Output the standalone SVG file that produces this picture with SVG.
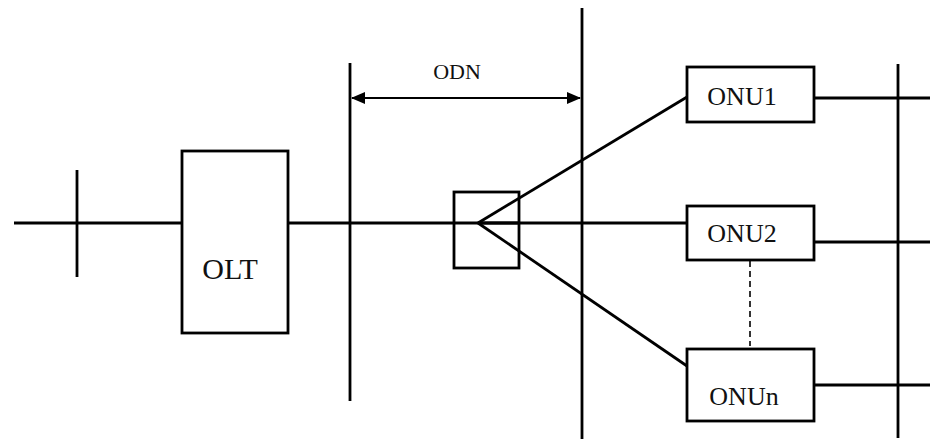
<svg xmlns="http://www.w3.org/2000/svg" width="930" height="439" viewBox="0 0 930 439">
<style>
.ln{stroke:#000;stroke-width:2.8;fill:none}
.bx{stroke:#000;stroke-width:2.8;fill:#fff}
.t{font-family:"Liberation Serif","Times New Roman",serif;fill:#111}
</style>
<defs>
<marker id="ah" viewBox="0 0 14 12" refX="13" refY="6" markerWidth="14" markerHeight="12" markerUnits="userSpaceOnUse" orient="auto-start-reverse">
<path d="M0,0 L14,6 L0,12 Z" fill="#000"/>
</marker>
</defs>
<rect width="930" height="439" fill="#fff"/>
<g id="connectors">
<line class="ln" x1="14" y1="223" x2="182" y2="223"/>
<line class="ln" x1="77" y1="170" x2="77" y2="277"/>
<line class="ln" x1="288" y1="223" x2="687" y2="223"/>
<line class="ln" x1="350" y1="63" x2="350" y2="401"/>
<line class="ln" x1="582" y1="8" x2="582" y2="439"/>
<line class="ln" x1="352" y1="98" x2="580" y2="98" marker-start="url(#ah)" marker-end="url(#ah)" style="stroke-width:2"/>
<line class="ln" x1="478" y1="223" x2="687" y2="97"/>
<line class="ln" x1="478" y1="223" x2="687" y2="366"/>
<line class="ln" x1="814" y1="98" x2="930" y2="98"/>
<line class="ln" x1="814" y1="242" x2="930" y2="242"/>
<line class="ln" x1="814" y1="385" x2="930" y2="385"/>
<line class="ln" x1="898" y1="64" x2="898" y2="438"/>
<line x1="750" y1="261" x2="750" y2="346" stroke="#000" stroke-width="1.6" stroke-dasharray="6,4"/>
</g>
<g id="odn-label"><text class="t" x="457" y="79" font-size="22" text-anchor="middle">ODN</text></g>
<g id="olt"><rect class="bx" x="182" y="151" width="106" height="182"/><text class="t" x="230" y="279" font-size="30" text-anchor="middle">OLT</text></g>
<g id="splitter"><rect class="ln" x="454" y="192" width="65" height="76"/><line class="ln" x1="478" y1="223" x2="519" y2="223"/></g>
<g id="onu1"><rect class="bx" x="687" y="67" width="127" height="55"/><text class="t" x="742" y="105" font-size="26" text-anchor="middle">ONU1</text></g>
<g id="onu2"><rect class="bx" x="687" y="206" width="127" height="54"/><text class="t" x="742" y="242" font-size="26" text-anchor="middle">ONU2</text></g>
<g id="onun"><rect class="bx" x="687" y="349" width="127" height="72"/><text class="t" x="744" y="405" font-size="26" text-anchor="middle">ONUn</text></g>
</svg>
